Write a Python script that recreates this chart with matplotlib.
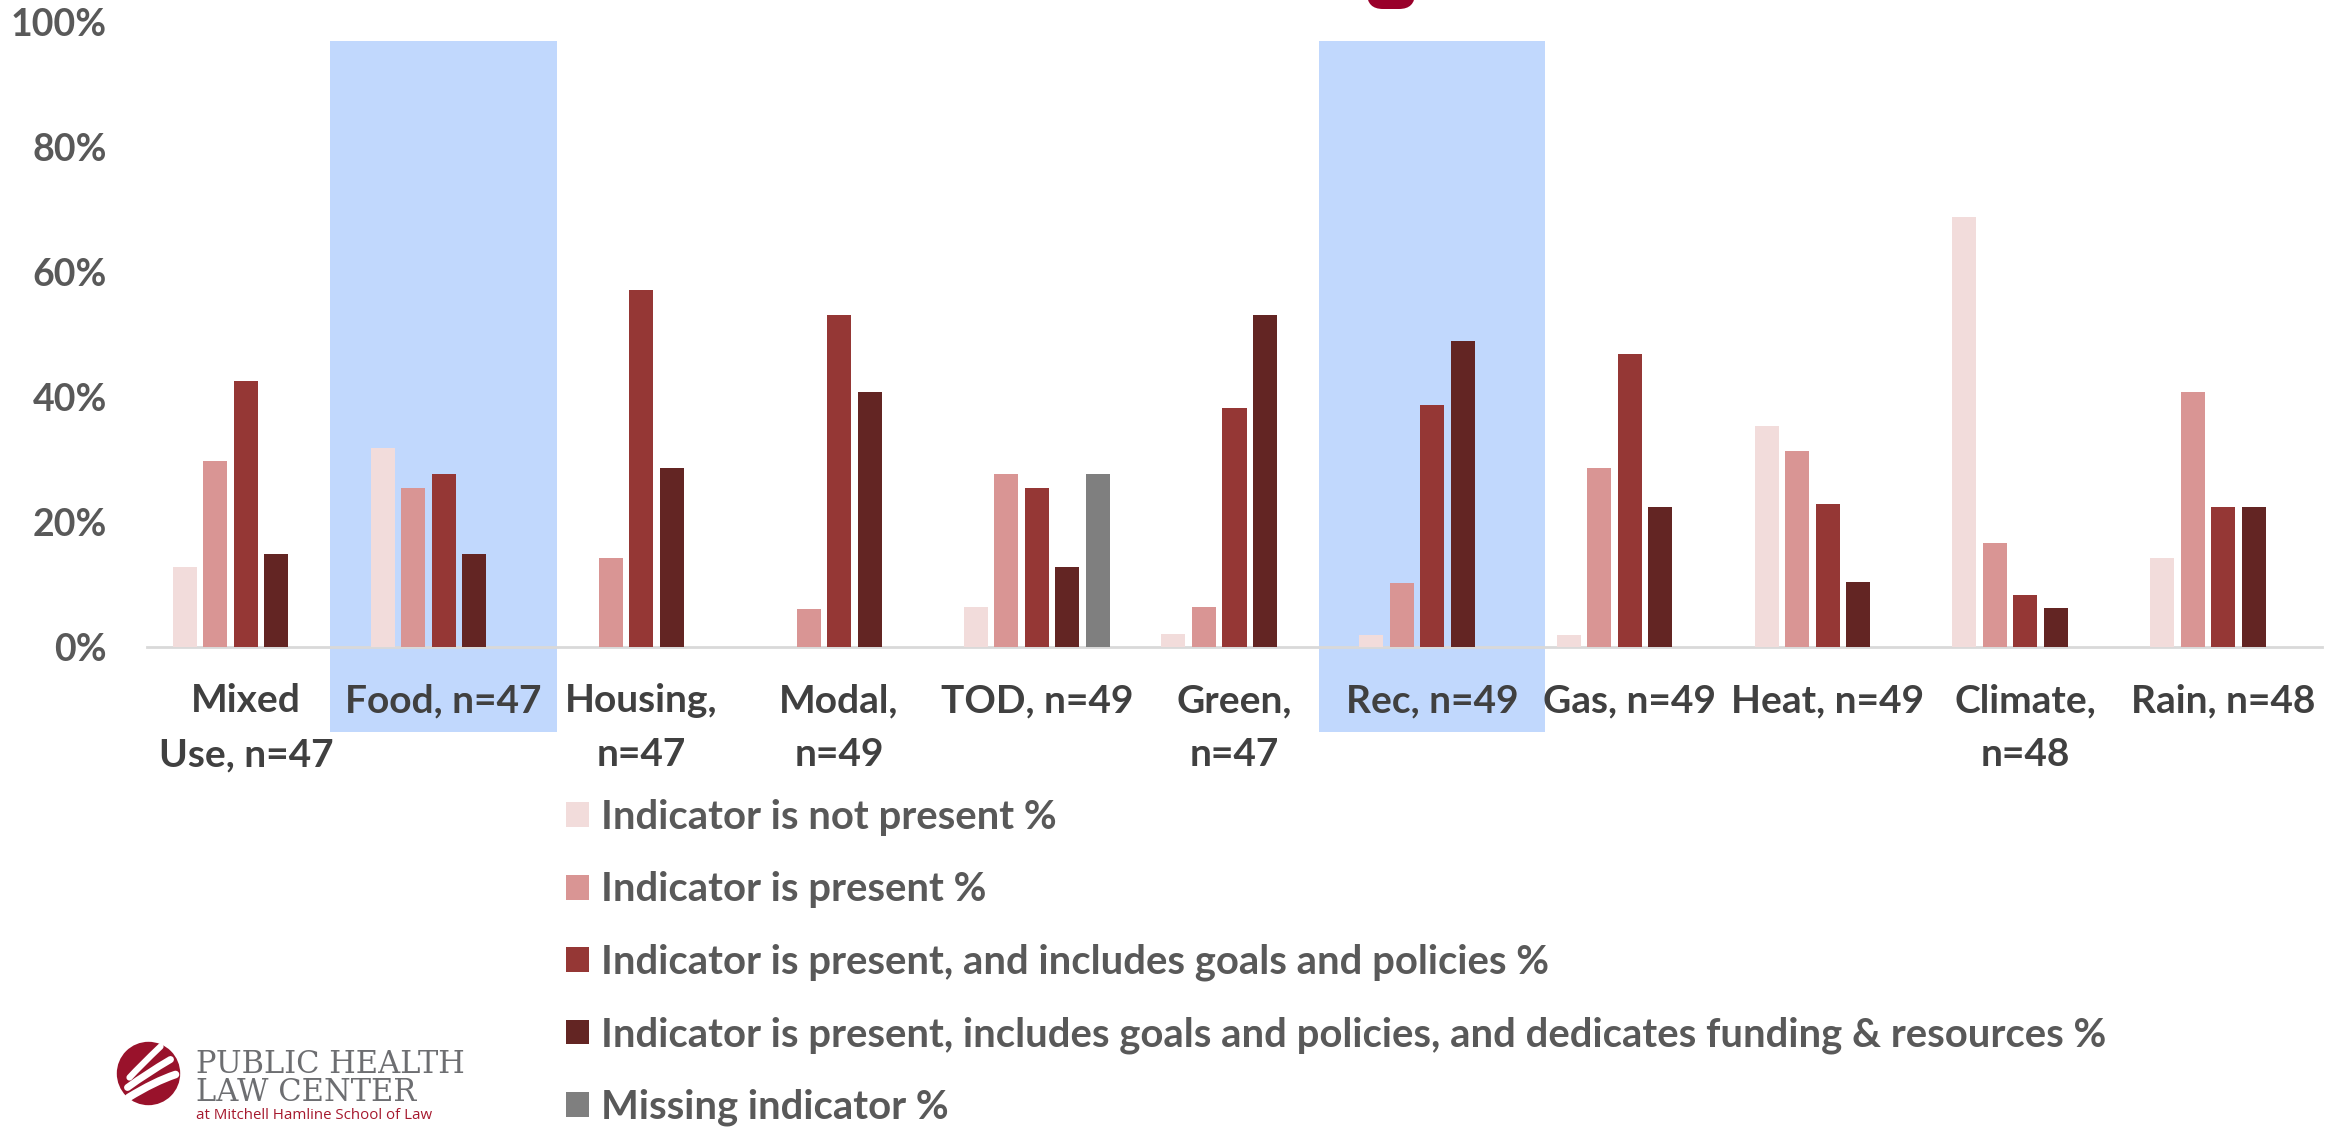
import numpy as np
import matplotlib
matplotlib.use('Agg')
import matplotlib.pyplot as plt
from matplotlib.patches import Rectangle, Circle, FancyBboxPatch, Patch
from matplotlib.path import Path
from matplotlib.patches import PathPatch

plt.rcParams['font.family'] = ['Lato', 'DejaVu Sans']

# 指标类别（n 为样本数）
categories = ['Mixed\nUse, n=47', 'Food, n=47', 'Housing,\nn=47', 'Modal,\nn=49',
              'TOD, n=49', 'Green,\nn=47', 'Rec, n=49', 'Gas, n=49', 'Heat, n=49',
              'Climate,\nn=48', 'Rain, n=48']

# 各等级所占百分比
not_present = [12.8, 31.9, 0.0, 0.0, 6.4, 2.1, 2.0, 2.0, 35.4, 68.8, 14.3]
present = [29.8, 25.5, 14.3, 6.1, 27.7, 6.4, 10.2, 28.6, 31.3, 16.7, 40.8]
goals = [42.6, 27.7, 57.1, 53.1, 25.5, 38.3, 38.8, 46.9, 22.9, 8.3, 22.4]
funding = [14.9, 14.9, 28.6, 40.8, 12.8, 53.2, 49.0, 22.4, 10.4, 6.3, 22.4]
missing = [0.0, 0.0, 0.0, 0.0, 27.7, 0.0, 0.0, 0.0, 0.0, 0.0, 0.0]

series_labels = ['Indicator is not present %',
                 'Indicator is present %',
                 'Indicator is present, and includes goals and policies %',
                 'Indicator is present, includes goals and policies, and dedicates funding & resources %',
                 'Missing indicator %']
series_colors = ['#f2dcdb', '#d99594', '#953735', '#632523', '#7f7f7f']

# 需要高亮的类别
highlight = ['Food, n=47', 'Rec, n=49']

W, H = 2349, 1130
fig = plt.figure(figsize=(W / 100, H / 100), dpi=100)
ax = fig.add_axes([147 / W, 1 - 647 / H, 2175 / W, 625 / H])
ax.patch.set_visible(False)

FS = 28
TXT = '#595959'

x = np.arange(len(categories))
pitch = 0.1543
width = 0.1214
all_series = [not_present, present, goals, funding, missing]

# 高亮背景
for name in highlight:
    i = categories.index(name)
    ax.add_patch(Rectangle((i - 0.572, -13.6), 1.144, 110.6, facecolor='#c1d8fd',
                           edgecolor='none', clip_on=False, zorder=0))

for k, (vals, col) in enumerate(zip(all_series, series_colors)):
    ax.bar(x + (k - 2) * pitch, vals, width=width, color=col, zorder=2)

ax.set_xlim(-0.5, len(categories) - 0.5)
ax.set_ylim(0, 100)
ax.set_yticks([0, 20, 40, 60, 80, 100])
ax.set_yticklabels([f'{v}%' for v in [0, 20, 40, 60, 80, 100]])
ax.set_xticks(x)
ax.set_xticklabels(categories, linespacing=1.66)
ax.tick_params(axis='x', length=0, pad=26, labelsize=FS, labelcolor='#404040')
ax.tick_params(axis='y', length=0, pad=29, labelsize=27, labelcolor=TXT)
for lab in ax.get_xticklabels() + ax.get_yticklabels():
    lab.set_fontweight('bold')

for s in ['top', 'right', 'left']:
    ax.spines[s].set_visible(False)
ax.spines['bottom'].set_color('#d9d9d9')
ax.spines['bottom'].set_linewidth(2)
ax.spines['bottom'].set_zorder(1)

# 图例
handles = [Patch(facecolor=c, edgecolor='none') for c in series_colors]
leg = fig.legend(handles, series_labels, loc='upper left',
                 bbox_to_anchor=(566 / W, 1 - 799 / H), frameon=False,
                 borderpad=0, borderaxespad=0, handlelength=0.58, handleheight=0.58,
                 handletextpad=0.3, labelspacing=0.88,
                 prop={'size': 28.8, 'weight': 'bold'})
for t in leg.get_texts():
    t.set_color(TXT)

# 叠加层：标志等
over = fig.add_axes([0, 0, 1, 1], zorder=5)
over.set_xlim(0, W)
over.set_ylim(H, 0)
over.axis('off')
over.patch.set_visible(False)

over.add_patch(FancyBboxPatch((1367, -30), 48, 39, boxstyle='round,pad=0,rounding_size=16',
                              facecolor='#99002a', edgecolor='none'))

cx, cy, r = 148.5, 1073.5, 31.7
over.add_patch(Circle((cx, cy), r, facecolor='#99122b', edgecolor='none'))
for (x0, y0), (xc, yc), (x1, y1), lw in [((-19, 4), (-8, -8), (12, -27), 4.5),
                                        ((-21, 14), (-2, 0), (22, -14), 5),
                                        ((-20, 24), (6, 8), (27, 1), 5.5)]:
    p = Path([(cx + x0, cy + y0), (cx + xc, cy + yc), (cx + x1, cy + y1)],
             [Path.MOVETO, Path.CURVE3, Path.CURVE3])
    over.add_patch(PathPatch(p, facecolor='none', edgecolor='white', lw=lw,
                             capstyle='round'))

over.text(196, 1073, 'PUBLIC HEALTH', family='DejaVu Serif', fontsize=22,
          color='#6d6e71', va='baseline', ha='left')
over.text(196, 1101, 'LAW CENTER', family='DejaVu Serif', fontsize=22,
          color='#6d6e71', va='baseline', ha='left')
over.text(196, 1119, 'at Mitchell Hamline School of Law', family='Open Sans',
          fontsize=10.8, color='#a6192e', va='baseline', ha='left')

fig.savefig('out.png', dpi=100, facecolor='white')
